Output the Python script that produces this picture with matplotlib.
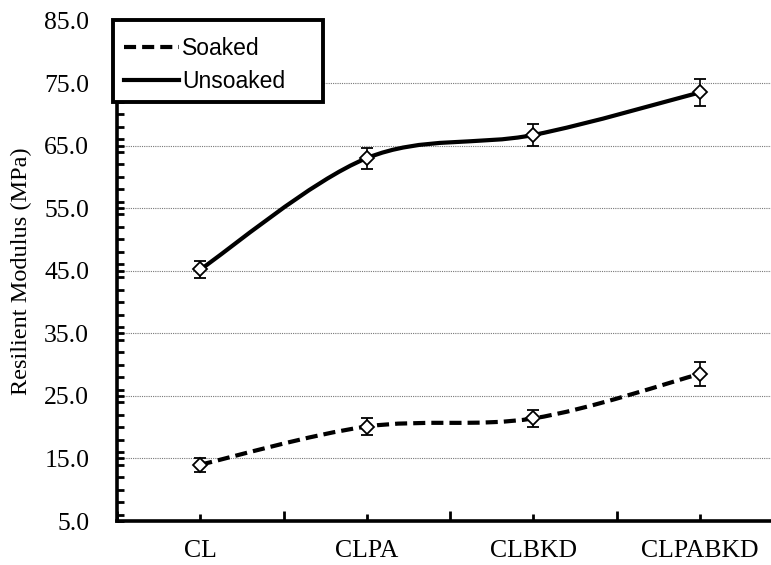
import numpy as np
import matplotlib
matplotlib.use("Agg")
import matplotlib.pyplot as plt
from matplotlib.path import Path
from matplotlib.patches import PathPatch, Rectangle
from matplotlib.lines import Line2D
from matplotlib.ticker import MultipleLocator, FormatStrFormatter

# ---- data ----
mixes = ["CL", "CLPA", "CLBKD", "CLPABKD"]
unsoaked = [45.2, 63.0, 66.7, 73.5]
unsoaked_err = [1.3, 1.7, 1.8, 2.1]
soaked = [14.0, 20.1, 21.4, 28.5]
soaked_err = [1.1, 1.4, 1.4, 1.9]

W, H = 771, 565
fig = plt.figure(figsize=(W / 100, H / 100), dpi=100)
ax = fig.add_axes([117 / W, 1 - 521 / H, (783 - 117) / W, (521 - 20.5) / H])

serif = "Liberation Serif"

def smooth_path(xs, ys):
    # Excel-style smoothed line: cubic Bezier, tangents from neighbours / 6
    p = np.column_stack([xs, ys]).astype(float)
    n = len(p)
    verts = [p[0]]; codes = [Path.MOVETO]
    for i in range(n - 1):
        prev = p[i - 1] if i > 0 else p[i]
        nxt = p[i + 2] if i + 2 < n else p[i + 1]
        c1 = p[i] + (p[i + 1] - prev) / 6.0
        c2 = p[i + 1] - (nxt - p[i]) / 6.0
        verts += [c1, c2, p[i + 1]]; codes += [Path.CURVE4] * 3
    return Path(verts, codes)

xpos = np.arange(len(mixes))
dash = (2.9, 1.45)

for vals, err, ls in [(unsoaked, unsoaked_err, "-"), (soaked, soaked_err, "--")]:
    patch = PathPatch(smooth_path(xpos, vals), fill=False, lw=3, ec="black",
                      capstyle="butt", zorder=3)
    if ls == "--":
        patch.set_linestyle((0, dash))
    ax.add_patch(patch)
    ax.errorbar(xpos, vals, yerr=err, fmt="D", ms=7, mfc="white", mec="black",
                mew=1.3, ecolor="black", elinewidth=1.2, capsize=4.3, capthick=1.2,
                zorder=4)

ax.set_xlim(-0.5, 3.5)
ax.set_ylim(5, 85)
ax.set_xticks(xpos)
ax.set_xticklabels(mixes, fontfamily=serif, fontsize=18.5)
ax.set_xticks(np.arange(-0.5, 3.6, 1.0), minor=True)
ax.yaxis.set_major_locator(MultipleLocator(10))
ax.yaxis.set_minor_locator(MultipleLocator(2))
ax.yaxis.set_major_formatter(FormatStrFormatter("%.1f"))
ax.set_yticks(np.arange(5, 86, 10))
for lab in ax.get_yticklabels():
    lab.set_fontfamily(serif); lab.set_fontsize(18.5)

ax.tick_params(axis="both", which="both", direction="in", width=2, color="black")
ax.tick_params(axis="y", which="major", length=5, pad=20)
ax.tick_params(axis="y", which="minor", length=5)
ax.tick_params(axis="x", which="major", length=5, pad=14)
ax.tick_params(axis="x", which="minor", length=7)

for yv in range(15, 80, 10):
    ax.axhline(yv, color="#777777", lw=0.8, ls=(0, (1, 1)), zorder=1)

for s in ("top", "right"):
    ax.spines[s].set_visible(False)
for s in ("left", "bottom"):
    ax.spines[s].set_linewidth(2.6)

ax.set_ylabel("Resilient Modulus (MPa)", fontfamily=serif, fontsize=17.5, labelpad=9)

# legend box drawn on top of the axes
fig.patches.append(Rectangle((113 / W, 1 - 102 / H), 210 / W, 82 / H,
                             transform=fig.transFigure, fc="white", ec="black",
                             lw=2.8, zorder=10))
handles = [Line2D([], [], color="black", lw=3, ls=(0, dash)),
           Line2D([], [], color="black", lw=3, ls="-")]
leg = fig.legend(handles, ["Soaked", "Unsoaked"], loc="upper left",
                 bbox_to_anchor=(108 / W, 1 - 21 / H), frameon=False,
                 prop={"family": "Liberation Sans", "size": 16.5},
                 handlelength=2.4, handletextpad=0.12, labelspacing=0.45,
                 borderpad=0.2)
leg.set_zorder(11)

fig.savefig("out.png", dpi=100)
